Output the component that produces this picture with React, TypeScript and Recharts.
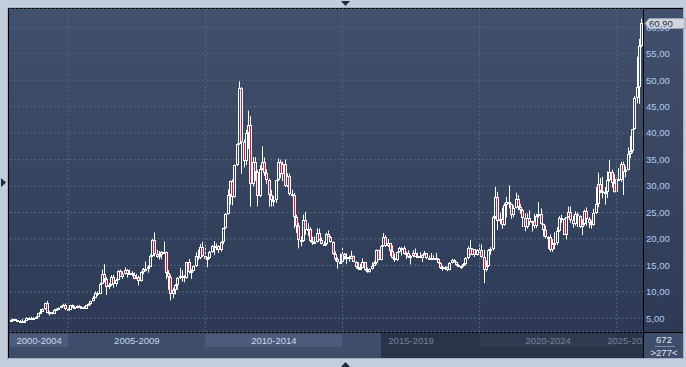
import { ComposedChart, Bar, XAxis, YAxis, CartesianGrid, ReferenceLine } from 'recharts';

// monthly candles, first one is Dec 2002
const START_YEAR = 2002;
const START_MONTH = 11;

const openPrices = [
  4.55,
  4.67, 4.80, 4.63, 4.44, 4.56, 4.57, 4.54, 5.10, 5.03, 5.15, 4.98, 5.33,
  5.96, 6.28, 6.68, 7.93, 6.02, 6.10, 5.86, 6.57, 6.77, 6.93, 7.28, 7.57,
  6.82, 6.63, 7.44, 7.11, 6.96, 7.35, 7.12, 7.16, 6.82, 7.48, 7.68, 8.27,
  8.83, 9.84, 9.68, 11.53, 13.45, 12.42, 10.90, 11.23, 12.83, 11.55, 12.31, 13.86,
  12.90, 13.35, 14.12, 13.33, 13.48, 13.17, 12.48, 12.89, 12.01, 13.79, 14.35, 14.33,
  14.76, 16.78, 19.86, 17.22, 16.52, 16.90, 17.57, 17.57, 13.57, 12.85, 9.62, 10.34,
  11.30, 12.54, 13.03, 13.05, 12.55, 15.59, 13.66, 13.93, 14.90, 16.69, 16.36, 18.45,
  16.86, 16.15, 16.36, 17.50, 18.69, 18.42, 18.72, 18.00, 19.44, 22.05, 24.67, 28.37,
  30.91, 27.93, 33.93, 37.87, 48.58, 38.40, 34.72, 39.99, 41.62, 30.45, 34.56, 32.72,
  28.18, 33.15, 34.54, 32.48, 31.06, 28.35, 27.28, 27.37, 31.07, 34.50, 32.23, 34.09,
  29.95, 31.88, 28.46, 28.37, 24.10, 22.37, 19.82, 19.68, 23.61, 21.69, 21.86, 19.59,
  19.50, 19.36, 21.21, 19.71, 19.08, 19.00, 21.01, 20.40, 19.47, 17.09, 16.20, 15.60,
  15.58, 17.20, 16.55, 16.62, 16.24, 16.74, 15.61, 14.71, 14.57, 14.53, 15.58, 14.12,
  13.82, 14.36, 14.95, 15.44, 17.86, 15.98, 18.67, 20.38, 18.66, 19.20, 17.74, 16.46,
  15.99, 17.51, 18.36, 18.23, 17.12, 17.42, 16.56, 16.73, 17.36, 16.64, 16.71, 16.45,
  16.93, 17.30, 16.39, 16.35, 16.34, 16.43, 16.30, 15.53, 14.57, 14.65, 14.67, 14.17,
  15.46, 16.06, 15.67, 15.13, 14.93, 14.80, 15.30, 16.33, 18.37, 16.93, 18.02, 16.97,
  17.86, 17.98, 16.68, 14.16, 14.97, 17.91, 18.19, 24.23, 28.01, 23.39, 23.86, 22.58,
  26.41, 26.99, 26.67, 24.51, 25.92, 27.50, 26.12, 25.53, 23.97, 22.18, 23.96, 23.13,
  23.31, 22.45, 24.36, 24.76, 22.79, 21.70, 20.28, 20.32, 17.87, 19.01, 19.19, 21.46,
  23.95, 23.74, 20.83, 24.09, 25.02, 23.56, 22.76, 24.71, 24.26, 22.24, 22.87, 25.29,
  23.79, 23.03, 22.70, 24.96, 26.55, 30.43, 29.13, 28.95, 28.90, 31.16, 32.63, 30.66,
  28.90, 31.25, 31.16, 34.12, 32.57, 33.03, 36.06, 36.69, 40.69, 46.66, 48.68, 56.43,
];

const highPrices = [
  4.82,
  4.90, 4.85, 4.65, 4.67, 4.85, 4.63, 5.18, 5.23, 5.28, 5.17, 5.37, 5.97,
  6.75, 6.85, 7.95, 8.29, 6.30, 6.15, 6.74, 6.86, 7.05, 7.45, 7.75, 7.80,
  6.90, 7.45, 7.60, 7.38, 7.45, 7.50, 7.27, 7.30, 7.55, 7.80, 8.30, 9.23,
  10.08, 10.05, 11.72, 14.20, 15.21, 12.75, 11.65, 13.17, 13.20, 12.50, 14.10, 14.20,
  13.88, 14.62, 14.30, 14.20, 13.90, 13.70, 13.40, 13.05, 13.88, 14.55, 15.75, 15.05,
  17.05, 20.03, 21.24, 17.95, 17.70, 17.70, 19.50, 17.60, 14.10, 13.25, 10.80, 11.50,
  12.78, 14.53, 14.10, 13.14, 15.65, 16.20, 14.25, 15.00, 17.47, 18.00, 19.05, 19.46,
  18.82, 16.60, 17.75, 18.85, 19.58, 19.15, 18.80, 19.50, 22.10, 24.87, 29.35, 31.05,
  31.25, 34.05, 38.10, 49.80, 48.70, 38.80, 40.65, 44.25, 43.20, 35.50, 35.45, 33.05,
  33.90, 37.48, 35.40, 33.15, 31.40, 29.25, 28.15, 31.10, 35.20, 35.00, 34.60, 35.00,
  32.40, 32.35, 29.30, 28.70, 24.60, 23.05, 20.50, 24.60, 25.10, 22.95, 22.20, 20.40,
  20.45, 22.00, 21.95, 20.30, 19.55, 21.15, 21.60, 20.60, 19.55, 17.65, 16.50, 17.25,
  18.48, 17.35, 17.30, 16.85, 17.75, 16.90, 15.80, 15.60, 15.30, 16.35, 15.65, 14.60,
  14.40, 15.60, 15.85, 18.00, 17.95, 18.80, 21.10, 20.70, 20.00, 19.25, 18.75, 17.25,
  17.60, 18.50, 18.45, 18.65, 17.60, 17.85, 16.95, 17.85, 18.20, 17.40, 17.45, 17.10,
  17.70, 17.35, 16.85, 17.35, 16.90, 17.35, 16.35, 15.60, 14.90, 14.85, 14.75, 15.60,
  16.25, 16.20, 15.70, 15.25, 15.00, 15.50, 16.55, 18.60, 19.75, 18.25, 18.10, 18.05,
  18.90, 18.95, 17.95, 15.90, 18.10, 18.45, 24.40, 29.85, 28.90, 25.00, 25.90, 26.75,
  27.95, 30.10, 26.75, 26.35, 28.75, 28.30, 26.60, 25.60, 24.85, 24.82, 25.40, 23.40,
  24.70, 24.70, 26.95, 25.75, 22.90, 22.50, 20.50, 20.85, 19.95, 21.25, 22.25, 24.30,
  24.55, 23.90, 24.15, 26.10, 26.15, 24.40, 25.25, 25.00, 24.45, 23.70, 25.55, 25.95,
  24.10, 23.50, 25.70, 29.80, 32.50, 31.55, 31.75, 29.80, 32.75, 34.90, 33.10, 32.30,
  31.60, 33.40, 34.60, 34.60, 33.70, 37.30, 39.50, 40.70, 47.00, 54.45, 57.80, 61.65,
];

const lowPrices = [
  4.52,
  4.60, 4.52, 4.35, 4.37, 4.47, 4.47, 4.52, 4.88, 4.95, 4.82, 4.88, 5.30,
  5.95, 6.20, 6.62, 5.95, 5.50, 5.72, 5.85, 6.40, 6.55, 6.90, 7.20, 6.55,
  6.40, 6.60, 7.00, 6.90, 6.90, 6.95, 6.85, 6.75, 6.80, 7.40, 7.50, 8.20,
  8.80, 9.20, 9.65, 11.45, 11.78, 9.39, 10.50, 11.10, 10.80, 11.00, 12.20, 12.80,
  12.45, 13.30, 12.70, 13.25, 12.95, 12.40, 12.40, 11.20, 11.95, 13.35, 13.85, 13.60,
  14.70, 16.55, 16.68, 16.40, 16.10, 16.15, 17.20, 12.40, 10.40, 8.40, 8.80, 9.50,
  10.40, 12.40, 11.90, 11.80, 12.50, 13.44, 12.45, 13.85, 14.70, 16.05, 16.15, 16.58,
  16.10, 14.65, 16.20, 17.40, 17.00, 17.85, 17.35, 17.60, 19.00, 21.90, 24.60, 26.50,
  26.35, 27.80, 33.75, 37.80, 32.33, 33.50, 33.95, 37.00, 26.10, 29.90, 31.00, 26.15,
  27.90, 33.00, 31.90, 30.35, 26.10, 26.10, 26.15, 26.80, 30.90, 31.45, 30.90, 29.80,
  29.80, 28.20, 28.00, 22.00, 21.10, 18.20, 18.60, 19.45, 20.80, 20.55, 19.40, 18.85,
  19.10, 19.30, 19.70, 19.00, 18.70, 18.70, 20.35, 19.30, 17.00, 15.80, 14.40, 15.35,
  15.50, 16.10, 15.30, 15.70, 16.15, 15.60, 14.40, 14.10, 14.30, 14.50, 13.95, 13.60,
  13.60, 14.25, 14.85, 15.15, 15.95, 15.95, 18.55, 18.50, 18.50, 16.80, 16.30, 15.65,
  15.85, 17.40, 16.85, 17.05, 16.20, 16.40, 15.20, 16.55, 16.60, 16.55, 16.40, 15.63,
  16.90, 16.20, 16.10, 16.25, 16.10, 16.00, 15.35, 14.35, 13.95, 14.15, 13.90, 14.10,
  15.40, 15.55, 14.90, 14.70, 14.30, 14.75, 15.00, 16.15, 16.90, 16.90, 16.60, 16.85,
  17.40, 16.45, 11.64, 13.85, 14.70, 17.00, 17.80, 23.75, 21.70, 22.80, 21.90, 22.50,
  24.05, 25.80, 23.80, 24.10, 25.75, 25.40, 24.80, 22.25, 21.45, 21.95, 22.65, 21.40,
  22.00, 22.05, 24.00, 22.70, 20.45, 20.10, 18.10, 17.55, 17.55, 18.10, 18.80, 21.35,
  23.05, 20.75, 19.90, 24.00, 23.05, 22.10, 22.55, 22.25, 22.10, 20.70, 22.50, 22.50,
  22.05, 21.95, 22.50, 24.75, 26.00, 28.65, 27.65, 26.45, 27.70, 30.85, 29.70, 28.75,
  28.85, 31.00, 30.80, 28.30, 31.65, 32.95, 35.30, 36.20, 40.60, 45.60, 45.55, 56.25,
];

const closePrices = [
  4.67,
  4.80, 4.63, 4.44, 4.56, 4.57, 4.54, 5.10, 5.03, 5.15, 4.98, 5.33, 5.96,
  6.28, 6.68, 7.93, 6.02, 6.10, 5.86, 6.57, 6.77, 6.93, 7.28, 7.57, 6.82,
  6.63, 7.44, 7.11, 6.96, 7.35, 7.12, 7.16, 6.82, 7.48, 7.68, 8.27, 8.83,
  9.84, 9.68, 11.53, 13.45, 12.42, 10.90, 11.23, 12.83, 11.55, 12.31, 13.86, 12.90,
  13.35, 14.12, 13.33, 13.48, 13.17, 12.48, 12.89, 12.01, 13.79, 14.35, 14.33, 14.76,
  16.78, 19.86, 17.22, 16.52, 16.90, 17.57, 17.57, 13.57, 12.85, 9.62, 10.34, 11.30,
  12.54, 13.03, 13.05, 12.55, 15.59, 13.66, 13.93, 14.90, 16.69, 16.36, 18.45, 16.86,
  16.15, 16.36, 17.50, 18.69, 18.42, 18.72, 18.00, 19.44, 22.05, 24.67, 28.37, 30.91,
  27.93, 33.93, 37.87, 48.58, 38.40, 34.72, 39.99, 41.62, 30.45, 34.56, 32.72, 28.18,
  33.15, 34.54, 32.48, 31.06, 28.35, 27.28, 27.37, 31.07, 34.50, 32.23, 34.09, 29.95,
  31.88, 28.46, 28.37, 24.10, 22.37, 19.82, 19.68, 23.61, 21.69, 21.86, 19.59, 19.50,
  19.36, 21.21, 19.71, 19.08, 19.00, 21.01, 20.40, 19.47, 17.09, 16.20, 15.60, 15.58,
  17.20, 16.55, 16.62, 16.24, 16.74, 15.61, 14.71, 14.57, 14.53, 15.58, 14.12, 13.82,
  14.36, 14.95, 15.44, 17.86, 15.98, 18.67, 20.38, 18.66, 19.20, 17.74, 16.46, 15.99,
  17.51, 18.36, 18.23, 17.12, 17.42, 16.56, 16.73, 17.36, 16.64, 16.71, 16.45, 16.93,
  17.30, 16.39, 16.35, 16.34, 16.43, 16.30, 15.53, 14.57, 14.65, 14.67, 14.17, 15.46,
  16.06, 15.67, 15.13, 14.93, 14.80, 15.30, 16.33, 18.37, 16.93, 18.02, 16.97, 17.86,
  17.98, 16.68, 14.16, 14.97, 17.91, 18.19, 24.23, 28.01, 23.39, 23.86, 22.58, 26.41,
  26.99, 26.67, 24.51, 25.92, 27.50, 26.12, 25.53, 23.97, 22.18, 23.96, 23.13, 23.31,
  22.45, 24.36, 24.76, 22.79, 21.70, 20.28, 20.32, 17.87, 19.01, 19.19, 21.46, 23.95,
  23.74, 20.83, 24.09, 25.02, 23.56, 22.76, 24.71, 24.26, 22.24, 22.87, 25.29, 23.79,
  23.03, 22.70, 24.96, 26.55, 30.43, 29.13, 28.95, 28.90, 31.16, 32.63, 30.66, 28.90,
  31.25, 31.16, 34.12, 32.57, 33.03, 36.06, 36.69, 40.69, 46.66, 48.68, 56.43, 60.90,
];

const yTicks = [5, 10, 15, 20, 25, 30, 35, 40, 45, 50, 55, 60];
const periodLabels = ['2000-2004', '2005-2009', '2010-2014', '2015-2019', '2020-2024', '2025-2029'];
const periodStarts = ['2005-01', '2010-01', '2015-01', '2020-01', '2025-01'];
const totalBars = 672;

const FONT = '"Liberation Sans", Arial, sans-serif';
const W = 686;
const H = 367;
const PLOT_L = 10;
const PLOT_R = 643;
const PLOT_B = 332;

const monthKey = (i: number) => {
  const m = START_MONTH + i;
  const y = START_YEAR + Math.floor(m / 12);
  return `${y}-${String((m % 12) + 1).padStart(2, '0')}`;
};

const data = closePrices.map((c, i) => ({
  month: monthKey(i),
  open: openPrices[i],
  high: highPrices[i],
  low: lowPrices[i],
  close: c,
  range: [lowPrices[i], highPrices[i]],
}));

const lastClose = closePrices[closePrices.length - 1];
const fmt = (v: number) => v.toFixed(2).replace('.', ',');

const Candle = (props: any) => {
  const { x, y, width, height, payload } = props;
  if (!payload || x == null) return null;
  const { open, close, high, low } = payload;
  const top = Math.min(y, y + height);
  const bottom = Math.max(y, y + height);
  const k = high > low ? (bottom - top) / (high - low) : 0;
  const py = (v: number) => top + (high - v) * k;
  const col = Math.floor(x + width / 2);
  const bTop = Math.round(py(Math.max(open, close)));
  const h = Math.max(2, Math.round(py(Math.min(open, close))) - bTop);
  const down = close < open;
  return (
    <g>
      <line x1={col + 0.5} x2={col + 0.5} y1={top} y2={bTop} stroke="#ffffff" strokeWidth={1} />
      <line x1={col + 0.5} x2={col + 0.5} y1={bTop + h} y2={bottom} stroke="#ffffff" strokeWidth={1} />
      <rect
        x={col - 0.5}
        y={bTop + 0.5}
        width={2}
        height={h - 1}
        fill={down ? '#dc143c' : 'none'}
        stroke="#ffffff"
        strokeWidth={1}
      />
    </g>
  );
};

const PriceTag = (props: any) => {
  const vb = props.viewBox || {};
  const yy = Math.round(vb.y) + 0.5;
  const x0 = PLOT_R + 2;
  return (
    <g>
      <polygon
        points={`${x0},${yy} ${x0 + 4},${yy - 5} ${W - 1},${yy - 5} ${W - 1},${yy + 5} ${x0 + 4},${yy + 5}`}
        fill="#d2d6dc"
        stroke="#98a2b0"
        strokeWidth={1}
      />
      <text x={x0 + 4} y={yy + 3.5} fontSize={9.5} fontFamily={FONT} fill="#1b2740">
        {fmt(lastClose)}
      </text>
    </g>
  );
};

// centre x of a month in the plot (only used for the period strip under the plot)
const band = (PLOT_R - PLOT_L) / data.length;
const monthX = (key: string) => PLOT_L + (data.findIndex(d => d.month === key) + 0.5) * band;
const edges = [PLOT_L, ...periodStarts.map(monthX), PLOT_R];

export default function App() {
  return (
    <div style={{ position: 'absolute', left: 0, top: 0, width: W, height: H, background: '#c3cddb', overflow: 'hidden', fontFamily: FONT }}>
      <div style={{ position: 'absolute', left: 7, top: 7, width: 677, height: 352, background: '#a6b2c4' }} />
      <div style={{ position: 'absolute', left: 8, top: 8, width: 675, height: 350, background: 'linear-gradient(#41506c, #2c3853)' }} />

      {/* period strip */}
      <div style={{ position: 'absolute', left: 9, top: 333, width: PLOT_R - 9, height: 25, background: '#3e4d69', overflow: 'hidden' }}>
        {periodLabels.map((lab, i) => {
          const a = edges[i];
          const b = edges[i + 1];
          return (
            <div key={lab}>
              {i % 2 === 0 && (
                <div style={{ position: 'absolute', left: a - 9, top: 1, width: b - a, height: 13, background: '#4b5b79' }} />
              )}
              <div
                style={{
                  position: 'absolute',
                  left: (a + b) / 2 - 9 - 40,
                  top: 1,
                  width: 80,
                  height: 13,
                  lineHeight: '13px',
                  textAlign: 'center',
                  fontSize: 9.5,
                  color: '#c9d8ee',
                  whiteSpace: 'nowrap',
                }}
              >
                {lab}
              </div>
            </div>
          );
        })}
        <div style={{ position: 'absolute', left: 381 - 9, top: 0, width: PLOT_R - 381, height: 25, background: 'rgba(15,20,35,0.45)' }} />
      </div>

      <div style={{ position: 'absolute', left: 644, top: 333, width: 39, height: 25, background: '#3e4d69' }}>
        <div style={{ position: 'absolute', left: 0, top: 1, width: 40, textAlign: 'center', fontSize: 9.5, lineHeight: '11px', color: '#e4eaf3' }}>
          {totalBars}
        </div>
        <div style={{ position: 'absolute', left: 11, top: 13, width: 20, height: 1, background: '#7f8ba0' }} />
        <div style={{ position: 'absolute', left: 0, top: 14, width: 40, textAlign: 'center', fontSize: 9.5, lineHeight: '11px', color: '#e4eaf3' }}>
          {`>${data.length}<`}
        </div>
      </div>

      {/* frame lines */}
      <div style={{ position: 'absolute', left: 8, top: 8, width: 675, height: 1, background: '#000' }} />
      <div style={{ position: 'absolute', left: 8, top: 8, width: 1, height: 350, background: '#000' }} />
      <div style={{ position: 'absolute', left: PLOT_R, top: 8, width: 1, height: 350, background: '#000' }} />
      <div style={{ position: 'absolute', left: 8, top: PLOT_B, width: 675, height: 1, background: '#000' }} />

      <div style={{ position: 'absolute', left: 0, top: 0 }}>
        <ComposedChart
          width={W}
          height={H}
          data={data}
          margin={{ top: 9, right: 3, bottom: H - PLOT_B, left: PLOT_L }}
          barCategoryGap={0}
          barGap={0}
        >
          <CartesianGrid vertical={false} stroke="#56657f" strokeDasharray="2 2" />
          <XAxis dataKey="month" height={0} tick={false} tickLine={false} axisLine={false} />
          <YAxis
            orientation="right"
            width={40}
            domain={[2.41, 63.46]}
            ticks={yTicks}
            interval={0}
            allowDataOverflow
            axisLine={false}
            tickLine={false}
            tickSize={0}
            tickMargin={3}
            tickFormatter={fmt}
            tick={{ fill: '#b2cdf0', fontSize: 9.5, fontFamily: FONT }}
          />
          {periodStarts.map(m => (
            <ReferenceLine key={m} x={m} stroke="#56657f" strokeDasharray="2 2" />
          ))}
          <Bar dataKey="range" shape={<Candle />} isAnimationActive={false} />
          <ReferenceLine y={lastClose} stroke="none" label={(p: any) => <PriceTag {...p} />} />
        </ComposedChart>
      </div>

      <svg width={W} height={H} style={{ position: 'absolute', left: 0, top: 0, pointerEvents: 'none' }}>
        <polygon points="341,1 350,1 345.5,6" fill="#1f2a40" />
        <polygon points="1,178 1,187 6,182.5" fill="#1f2a40" />
        <polygon points="341,367 350,367 345.5,362" fill="#1f2a40" />
      </svg>
    </div>
  );
}
